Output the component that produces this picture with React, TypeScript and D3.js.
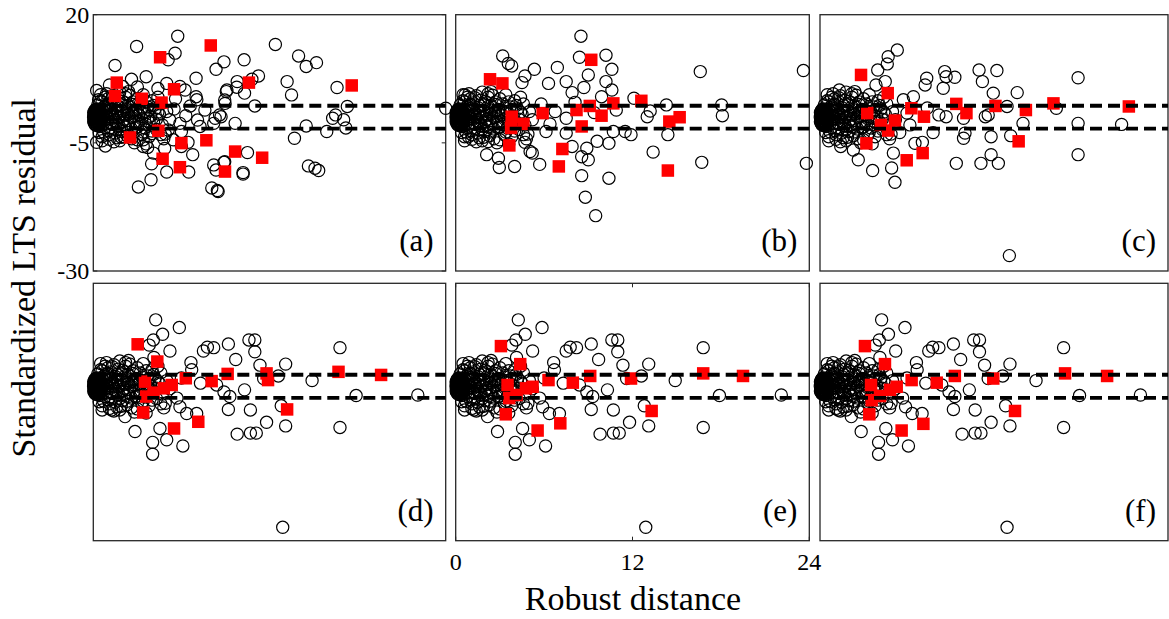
import React from 'react';
import * as d3 from 'd3';

type Pt = [number, number];

// x domain / y domain shared by all panels
const xDomain: [number, number] = [0, 24];
const yDomain: [number, number] = [-30, 20];
const yTicks = [20, -5, -30];
const xTicks = [0, 12, 24];
const cutoff = 2.24;
const panelLabels = ['(a)', '(b)', '(c)', '(d)', '(e)', '(f)'];

// dense pile of points at robust distance ~0
const blobPts: Pt[] = [
  [0.02, 0.0], [0.05, 0.6], [0.05, -0.6], [0.08, 1.2], [0.08, -1.2], [0.1, 0.3], [0.1, -0.3],
  [0.12, 0.9], [0.12, -0.9], [0.15, 1.5], [0.15, -1.5], [0.18, 0.0], [0.2, 0.6], [0.2, -0.6],
  [0.22, 1.1], [0.22, -1.1], [0.25, 0.2], [0.25, -0.2], [0.28, 0.8], [0.28, -0.8], [0.3, 1.4],
  [0.3, -1.4], [0.33, 0.4], [0.33, -0.4], [0.36, 1.0], [0.36, -1.0], [0.4, 0.0], [0.42, 0.6],
  [0.42, -0.6], [0.45, 1.3], [0.45, -1.3], [0.5, 0.2], [0.5, -0.3], [0.55, 0.9], [0.55, -0.9],
  [0.6, 0.0], [0.03, 0.9], [0.03, -0.9], [0.07, 0.0], [0.14, 0.5], [0.14, -0.5], [0.17, -1.0],
  [0.17, 1.0], [0.26, 1.6], [0.26, -1.6],
];

// the crowded core near the origin
const corePts: Pt[] = [
  [0.3, 2.4], [0.4, -1.8], [0.5, 3.2], [0.5, -0.8], [0.6, 1.5], [0.7, -2.9], [0.7, 0.4], [0.8, 2.2],
  [0.9, -1.3], [1.0, 3.6], [1.0, -0.2], [1.1, 1.1], [1.1, -3.4], [1.2, 2.8], [1.3, -2.2], [1.3, 0.7],
  [1.4, 4.2], [1.5, -0.7], [1.5, 1.9], [1.6, -4.0], [1.7, 3.3], [1.7, -1.6], [1.8, 0.2], [1.9, 2.4],
  [2.0, -2.8], [2.0, 1.2], [2.1, -0.4], [2.2, 3.9], [2.3, -3.6], [2.3, 0.8], [2.4, -1.2], [2.5, 2.0],
  [2.6, -2.3], [2.6, 0.0], [2.7, 3.0], [2.8, -0.9], [2.9, 1.5], [3.0, -4.4], [3.0, -1.9], [3.1, 0.5],
  [3.2, 2.6], [3.3, -0.3], [3.4, 4.4], [3.4, -2.9], [3.5, 1.1], [3.6, -1.4], [3.7, 2.0], [3.8, -3.8],
  [3.9, 0.2], [4.0, 3.2], [4.1, -0.9], [4.2, 1.6], [4.3, -2.4], [4.5, 0.6], [4.6, 2.6], [4.7, -1.5],
  [4.9, -3.3], [5.0, 1.1], [5.2, -0.5], [0.9, 4.6], [1.4, -4.8], [2.4, 5.0], [2.8, -5.0], [3.6, -5.2],
  [0.6, -3.8], [1.8, 4.9], [4.4, 3.9], [4.8, -4.2], [0.4, 0.9], [0.8, -0.5], [1.2, -1.0], [1.6, 0.9],
  [2.2, -1.9], [2.7, 1.0], [3.3, 1.8], [3.8, -1.0],
  [0.5, 4.4], [0.6, -4.6], [0.7, 1.9], [0.8, -2.0], [0.9, 0.1], [1.0, 2.5], [1.0, -2.6], [1.1, -4.3],
  [1.2, 1.5], [1.3, 3.8], [1.3, -1.4], [1.4, 0.0], [1.5, -3.1], [1.6, 2.3], [1.7, -0.1], [1.8, -2.4],
  [1.9, 1.3], [1.9, -3.9], [2.0, 3.1], [2.1, 0.4], [2.1, -1.6], [2.2, 2.1], [2.3, -2.9], [2.4, 1.4],
  [2.5, -0.7], [2.5, 4.3], [2.6, -4.2], [2.7, 2.5], [2.8, 0.2], [2.9, -2.0], [3.0, 3.6], [3.1, -0.8],
  [3.2, 1.2], [3.3, -3.4], [3.4, 0.8], [3.5, -2.1], [3.6, 3.0], [3.7, -0.2], [3.8, 1.5], [4.0, -2.7],
  [4.1, 2.3], [4.3, -0.4], [4.4, 1.0], [4.6, -3.4], [0.6, 3.0], [0.7, -1.2], [0.9, 1.2], [1.1, 0.5],
  [1.2, -0.4], [1.5, 0.4], [1.6, -1.0], [2.0, -0.9], [2.4, 0.6], [2.9, 0.8], [3.2, -1.4], [0.4, -3.0],
  [0.5, 0.2], [0.8, 3.9], [1.8, -4.6], [2.2, 4.6],
];

const circlesA: Pt[] = [
  [5.75, 15.8], [2.95, 13.8], [5.57, 12.5], [5.1, 11.2], [1.48, 10.1], [12.4, 14.2], [13.98, 11.95],
  [14.5, 9.9], [15.2, 10.65], [8.9, 10.8], [8.36, 9.35], [10.27, 11.2], [11.25, 8.05], [10.8, 7.4],
  [9.8, 6.95], [9.77, 5.85], [10.3, 4.7], [9.1, 5.3], [7.0, 7.6], [13.2, 6.95], [13.5, 4.35],
  [16.6, 5.8], [11.0, 2.2], [17.3, 2.1], [16.5, 0.45], [16.3, -0.2], [17.05, -0.5], [17.2, -2.1],
  [24.0, 1.75], [14.5, -1.7], [15.9, -2.8], [13.7, -4.1], [14.65, -9.5], [15.1, -9.95], [15.35, -10.4],
  [10.5, -6.9], [10.2, -10.8], [8.9, -8.8], [8.2, -9.3], [8.36, -10.3], [8.07, -13.8], [8.45, -14.3],
  [6.77, -7.3], [6.5, -10.7], [5.0, -10.7], [3.97, -9.1], [3.93, -12.2], [3.07, -13.6], [4.1, -7.0],
  [0.82, -5.6], [0.23, -4.9], [0.23, 5.2], [0.36, 3.4], [1.1, 6.3], [2.6, 7.4], [3.6, 7.9], [5.0, 6.6],
  [6.25, 5.3], [5.9, 6.0], [7.05, 3.4], [7.6, 1.4], [8.6, 0.45], [8.97, 2.7], [9.66, -1.2], [8.2, -1.2],
  [7.27, -1.8], [6.0, -2.8], [5.45, -4.4], [6.0, -5.7], [3.4, -5.7], [3.4, -4.4], [2.05, -3.8],
  [9.06, 5.0], [7.0, 4.0], [8.95, 3.35], [8.7, 0.1], [8.3, -0.2], [7.1, -0.55], [5.9, -1.2], [5.1, -2.5],
  [4.86, -6.1], [10.2, -11.1], [8.95, -8.7], [8.5, -14.5], [6.45, -4.9], [3.7, -5.9], [6.6, 2.2],
  [5.6, 3.6], [6.3, 0.3], [5.5, 1.6], [4.4, 5.6], [2.0, 6.0], [3.0, 5.9], [4.0, -3.2],
];
const squaresA: Pt[] = [
  [4.55, 11.7], [8.0, 14.0], [1.6, 6.75], [1.48, 4.15], [3.3, 3.6], [4.65, 2.85], [5.5, 5.45],
  [10.6, 6.75], [17.6, 6.2], [4.43, -2.65], [2.5, -3.95], [6.0, -5.05], [7.7, -4.5], [9.66, -6.7],
  [11.5, -7.9], [4.72, -8.1], [5.9, -9.75], [8.97, -10.6],
];

const circlesB: Pt[] = [
  [8.5, 15.8], [3.19, 11.95], [3.57, 10.5], [3.8, 10.0], [5.34, 9.35], [4.7, 8.05], [4.5, 6.75],
  [6.9, 9.7], [6.3, 6.6], [7.5, 6.95], [7.9, 4.8], [8.4, 11.7], [10.2, 12.1], [10.6, 9.35], [9.0, 8.25],
  [10.2, 6.95], [8.7, 5.8], [10.6, 5.3], [9.9, 4.0], [12.1, 3.7], [14.3, 2.4], [13.0, 0.1], [18.05, 2.4],
  [18.1, 0.3], [16.6, 8.9], [23.6, 9.1], [16.7, -8.8], [23.8, -9.0], [14.4, -3.4], [13.4, -6.8],
  [11.9, -3.4], [10.4, -5.1], [9.6, -4.7], [8.9, -6.05], [8.55, -7.7], [9.0, -8.3], [8.55, -11.4],
  [10.4, -11.9], [8.8, -15.6], [9.5, -19.2], [7.9, -5.7], [7.5, -3.1], [7.5, -0.2], [5.7, -9.2],
  [4.0, -9.6], [2.96, -9.8], [2.9, -8.0], [2.1, -7.3], [5.2, -7.0], [5.05, -6.7], [4.7, -4.9],
  [2.2, -4.75], [0.86, -3.8], [0.63, 4.35], [6.13, -2.8], [6.75, 1.1], [10.9, 1.4], [11.5, -2.8],
  [10.7, -2.8], [13.2, 1.2], [5.8, 2.6], [6.4, -1.3], [9.4, 0.9], [8.1, 2.9],
];
const squaresB: Pt[] = [
  [9.2, 11.2], [2.33, 7.4], [3.17, 6.6], [3.8, 0.1], [4.6, -1.3], [3.76, -2.1], [5.9, 0.8],
  [3.64, -5.5], [7.24, -6.2], [7.0, -9.6], [8.2, 1.4], [9.1, 2.2], [9.9, 0.3], [10.7, 2.7],
  [8.55, -1.8], [12.6, 3.2], [14.5, -0.85], [15.2, 0.0], [14.4, -10.4],
];

const circlesC: Pt[] = [
  [5.33, 13.1], [4.7, 11.8], [4.64, 10.4], [3.98, 9.2], [3.86, 6.3], [4.5, 6.95], [1.33, 5.3],
  [7.36, 7.6], [7.25, 6.3], [8.6, 8.9], [8.7, 7.9], [9.3, 7.8], [8.5, 5.65], [10.97, 9.2], [11.2, 6.95],
  [12.2, 9.1], [11.95, 4.7], [13.6, 4.8], [17.8, 7.7], [17.8, -1.2], [17.8, -7.3], [20.8, -1.4],
  [16.3, 1.75], [14.0, -1.2], [13.15, -3.6], [12.3, -9.0], [11.8, -7.3], [11.1, -9.0], [11.8, -3.8],
  [11.4, 0.1], [9.9, -4.1], [10.0, -3.1], [9.4, -9.0], [7.8, -3.0], [8.2, 0.45], [8.7, 0.1],
  [6.55, -5.1], [7.06, -4.9], [5.06, -7.0], [4.94, -9.9], [5.17, -12.7], [3.63, -10.4], [2.64, -8.3],
  [2.3, -6.4], [13.06, -27.0], [1.43, -5.7], [6.44, 4.0], [5.75, 3.4], [9.9, -0.2], [11.6, 0.45],
  [12.9, 2.1], [5.5, -3.0], [6.2, -1.5], [7.4, 1.8], [6.0, 0.8],
];
const squaresC: Pt[] = [
  [2.83, 8.25], [4.67, 4.7], [3.26, 0.8], [4.2, -1.5], [4.7, -2.6], [5.17, -0.65], [3.2, -5.1],
  [6.3, 1.75], [7.17, 0.1], [5.98, -8.4], [7.08, -7.0], [9.4, 2.6], [10.1, 0.8], [12.1, 2.2],
  [14.2, 1.4], [16.1, 2.7], [21.3, 2.1], [13.7, -4.7],
];

// the three lower panels show (almost) the same observations
const circlesRow2: Pt[] = [
  [4.25, 12.9], [5.86, 11.4], [4.72, 10.1], [4.09, 9.0], [3.81, 8.0], [5.22, 6.85], [4.13, 5.6],
  [6.65, 4.6], [6.7, 3.2], [7.5, 6.85], [7.77, 7.6], [8.2, 7.5], [9.2, 8.2], [9.7, 5.2], [10.6, 9.0],
  [11.0, 9.0], [11.0, 6.7], [11.35, 4.1], [13.1, 4.3], [12.6, 2.0], [14.9, 1.1], [16.8, 7.5],
  [16.8, -8.0], [17.9, -1.8], [22.1, -1.7], [13.1, -7.7], [12.8, -3.8], [11.8, -7.0], [11.1, -9.1],
  [10.7, -9.1], [9.8, -9.3], [10.7, -4.6], [9.2, -4.5], [9.3, -2.0], [10.3, -0.7], [8.4, 0.25],
  [7.04, -5.3], [6.36, -5.3], [6.1, -11.6], [5.0, -10.4], [4.04, -10.9], [4.04, -13.2], [2.84, -8.8],
  [2.16, -5.9], [1.25, -4.6], [4.54, -8.2], [12.9, -27.4], [11.6, 1.5], [5.7, -2.3], [8.9, -1.1],
  [6.0, 1.6], [7.3, 0.6], [5.9, -4.0],
];
const squaresD: Pt[] = [
  [3.02, 8.15], [4.36, 4.8], [3.52, 0.9], [3.6, -2.0], [4.1, -1.25], [4.8, -0.4], [5.34, 0.25],
  [3.4, -5.1], [6.3, 1.55], [8.06, 1.0], [9.15, 2.4], [11.8, 2.5], [11.9, 1.2], [5.5, -8.2],
  [7.15, -6.9], [13.2, -4.5], [16.7, 2.8], [19.6, 2.2],
];
const squaresE: Pt[] = [
  [3.07, 7.8], [4.38, 4.3], [3.52, 0.25], [4.13, -1.7], [4.77, -0.4], [5.22, -0.1], [3.63, -2.3],
  [3.4, -5.45], [6.3, 1.2], [7.95, 0.7], [9.13, 2.0], [11.9, 1.5], [7.1, -7.2], [5.56, -8.6],
  [13.3, -4.8], [16.8, 2.5], [19.5, 2.0],
];
const squaresF: Pt[] = [
  [3.1, 7.8], [4.48, 4.3], [3.52, 0.25], [4.14, -1.9], [4.83, -0.7], [5.29, -0.1], [3.56, -2.7],
  [3.4, -5.45], [6.32, 1.2], [8.05, 0.7], [9.3, 2.0], [11.95, 1.5], [7.13, -7.3], [5.63, -8.6],
  [13.45, -4.8], [16.9, 2.5], [19.8, 2.0],
];

const circleSets = [circlesA, circlesB, circlesC, circlesRow2, circlesRow2, circlesRow2];
const squareSets = [squaresA, squaresB, squaresC, squaresD, squaresE, squaresF];

const W = 1169;
const H = 619;
const cols = [
  { l: 93.3, r: 445.7 },
  { l: 455.7, r: 809.3 },
  { l: 820, r: 1168 },
];
const rows = [
  { t: 14.7, b: 271 },
  { t: 283.3, b: 540.7 },
];
const font = '"Liberation Serif", "Times New Roman", Times, serif';

const Panel = ({ idx }: { idx: number }) => {
  const c = cols[idx % 3];
  const r = rows[Math.floor(idx / 3)];
  const x = d3.scaleLinear().domain(xDomain).range([c.l, c.r]);
  const y = d3.scaleLinear().domain(yDomain).range([r.b, r.t]);
  const pts = [...blobPts, ...corePts, ...circleSets[idx]];
  const sq = 12.5;
  return (
    <g>
      <rect x={c.l} y={r.t} width={c.r - c.l} height={r.b - r.t} fill="white" stroke="#262626" strokeWidth={1.3} />
      {idx === 0 &&
        yTicks.map((t) => (
          <g key={t}>
            <line x1={c.l} x2={c.l + 4} y1={y(t)} y2={y(t)} stroke="#262626" />
            <line x1={c.r - 4} x2={c.r} y1={y(t)} y2={y(t)} stroke="#262626" />
            <text x={c.l - 4} y={y(t)} dy="0.35em" textAnchor="end" fontSize={24} fontFamily={font}>
              {t}
            </text>
          </g>
        ))}
      {idx === 4 &&
        xTicks.map((t) => (
          <g key={t}>
            <line x1={x(t)} x2={x(t)} y1={r.b} y2={r.b - 4} stroke="#262626" />
            <line x1={x(t)} x2={x(t)} y1={r.t} y2={r.t + 4} stroke="#262626" />
            <text x={x(t)} y={r.b + 29} textAnchor="middle" fontSize={24} fontFamily={font}>
              {t}
            </text>
          </g>
        ))}
      {pts.map((p, i) => (
        <circle key={'c' + i} cx={x(p[0])} cy={y(p[1])} r={6.1} fill="none" stroke="#000" strokeWidth={1.2} />
      ))}
      {squareSets[idx].map((p, i) => (
        <rect key={'s' + i} x={x(p[0]) - sq / 2} y={y(p[1]) - sq / 2} width={sq} height={sq} fill="#ff0000" />
      ))}
      {[cutoff, -cutoff].map((v) => (
        <line key={v} x1={c.l} x2={c.r} y1={y(v)} y2={y(v)} stroke="#000" strokeWidth={3.8} strokeDasharray="12 6" />
      ))}
      <text x={c.r - 12} y={r.b - 20} textAnchor="end" fontSize={31} fontFamily={font}>
        {panelLabels[idx]}
      </text>
    </g>
  );
};

export default function App() {
  return (
    <svg width={W} height={H} style={{ position: 'absolute', left: 0, top: 0, background: 'white' }}>
      {[0, 1, 2, 3, 4, 5].map((i) => (
        <Panel key={i} idx={i} />
      ))}
      <text
        transform={`translate(35,${(rows[0].t + rows[1].b) / 2}) rotate(-90)`}
        textAnchor="middle"
        fontSize={34}
        fontFamily={font}
      >
        Standardized LTS residual
      </text>
      <text x={633} y={610} textAnchor="middle" fontSize={34} fontFamily={font}>
        Robust distance
      </text>
    </svg>
  );
}
